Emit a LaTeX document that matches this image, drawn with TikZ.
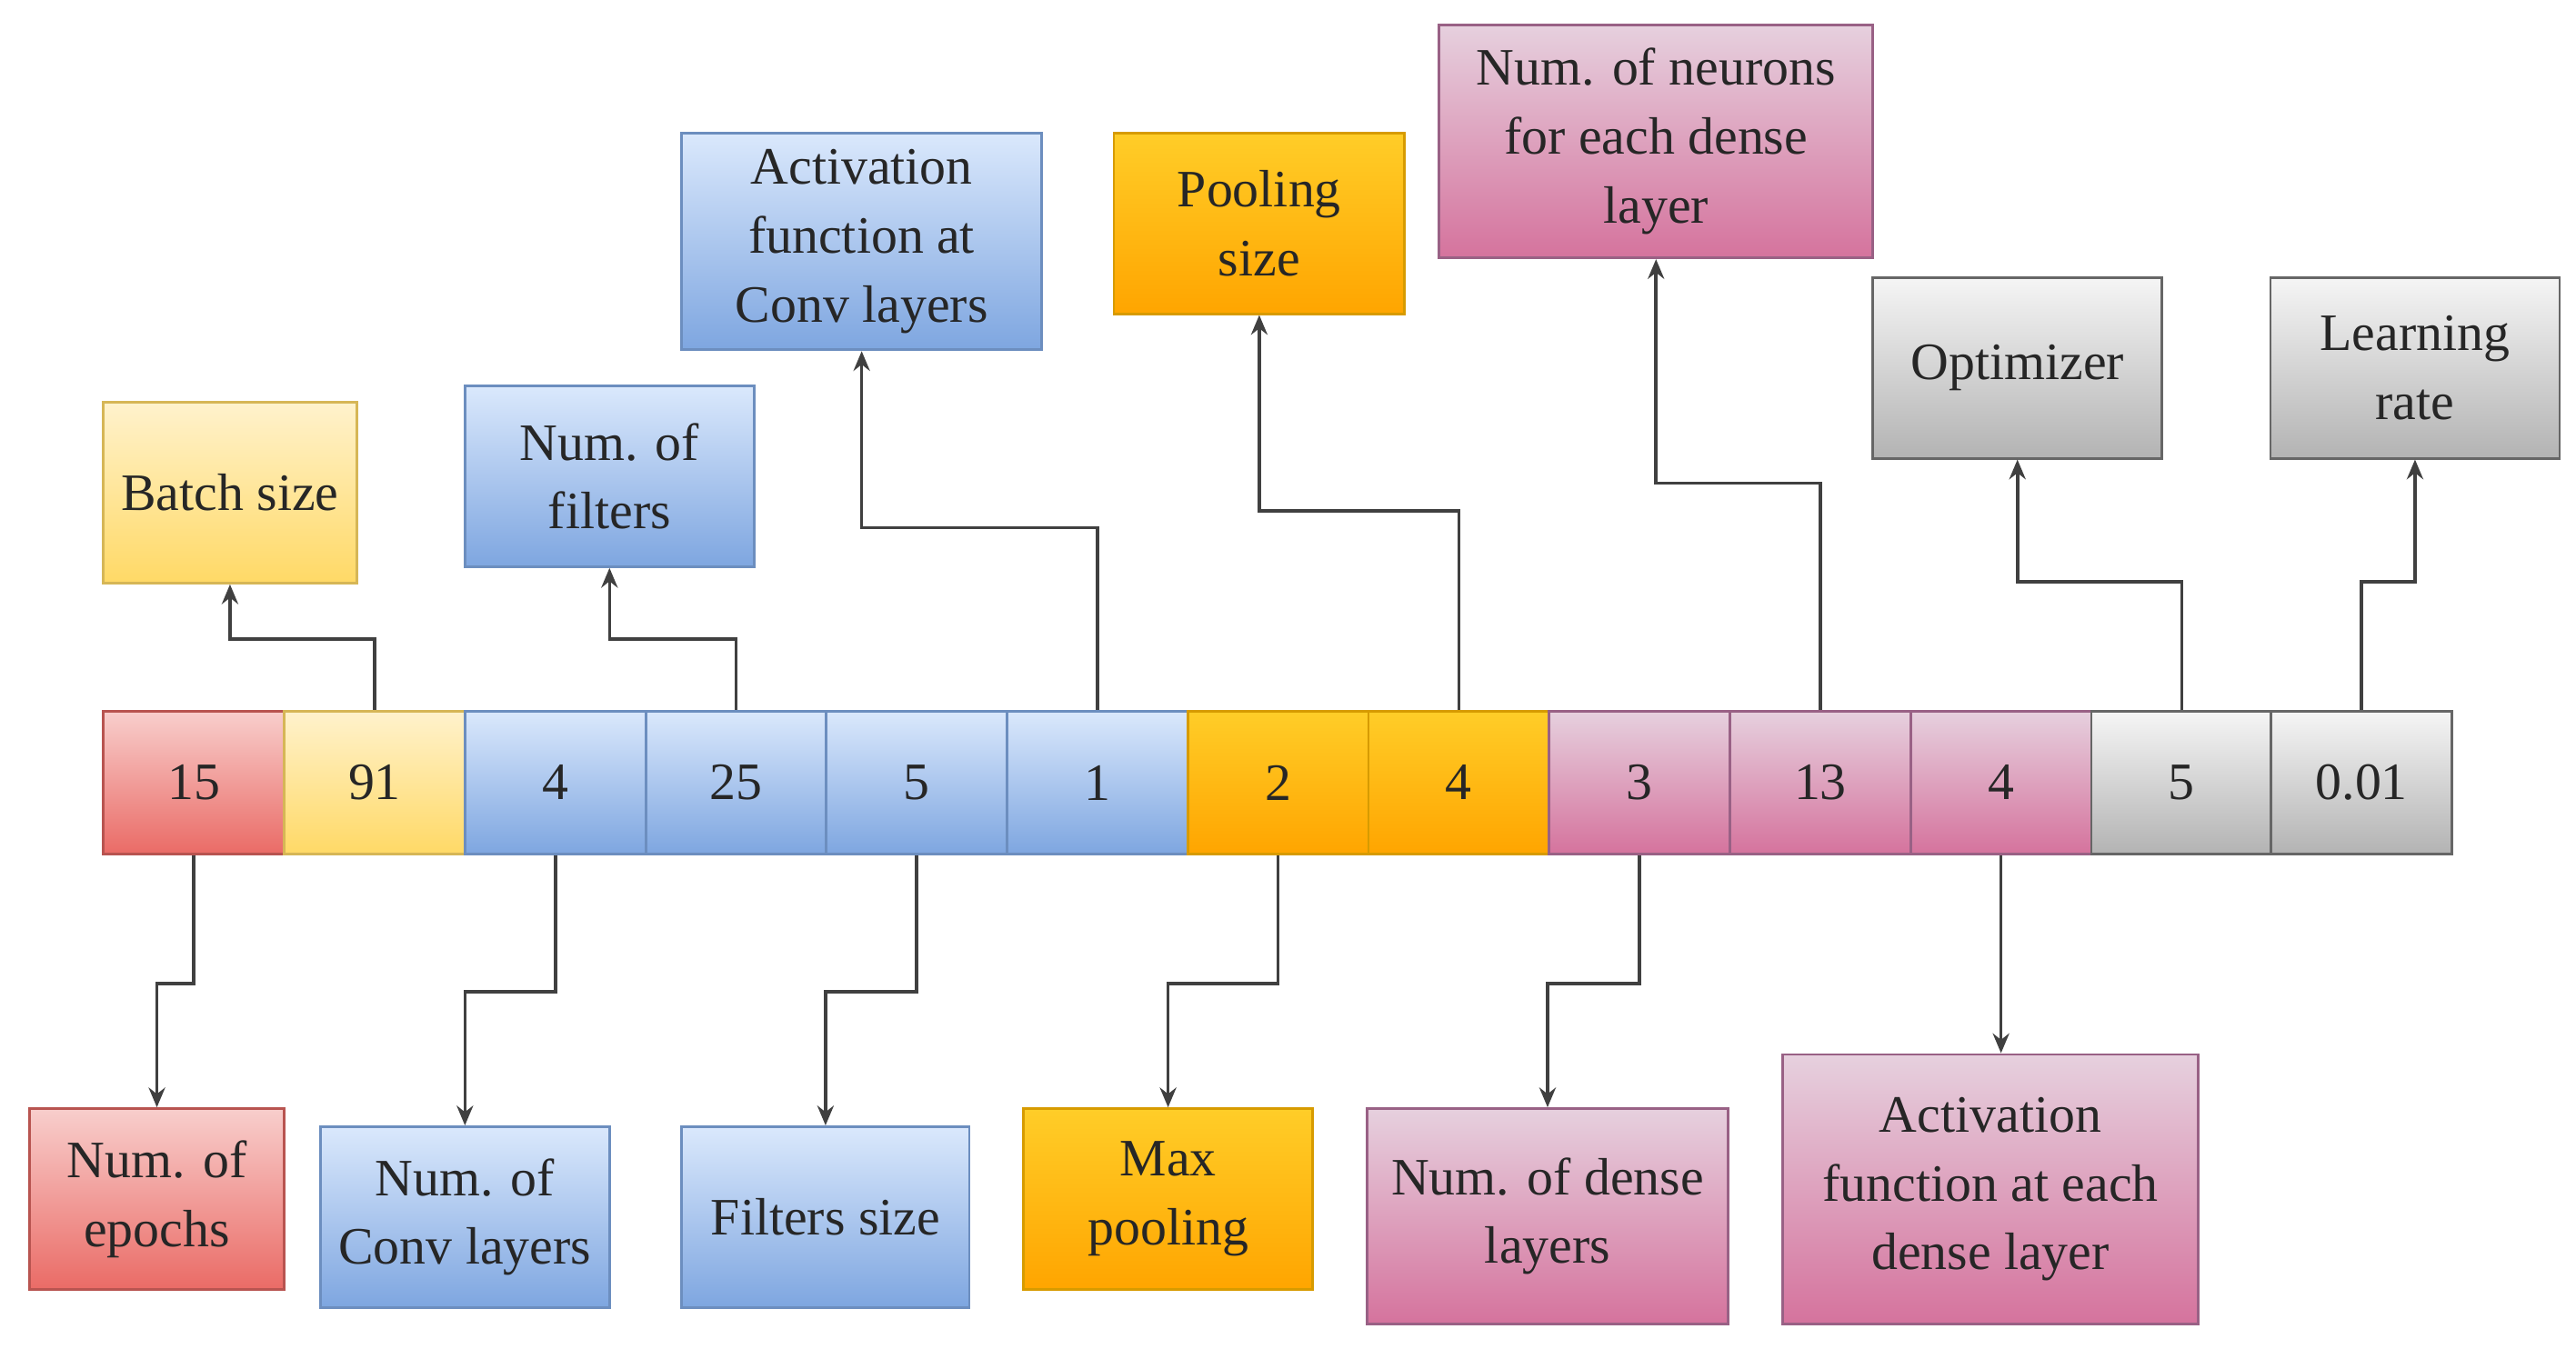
\documentclass[tikz,border=0pt]{standalone}
\usepackage{fontspec}
\setmainfont{Liberation Serif}
\usetikzlibrary{arrows.meta}
\definecolor{rT}{HTML}{F8CECC}\definecolor{rB}{HTML}{EA6B66}\definecolor{rD}{HTML}{B85450}
\definecolor{yT}{HTML}{FFF2CC}\definecolor{yB}{HTML}{FFD966}\definecolor{yD}{HTML}{D6B656}
\definecolor{bT}{HTML}{DAE8FC}\definecolor{bB}{HTML}{7EA6E0}\definecolor{bD}{HTML}{6C8EBF}
\definecolor{oT}{HTML}{FFCD28}\definecolor{oB}{HTML}{FFA500}\definecolor{oD}{HTML}{D79B00}
\definecolor{pT}{HTML}{E6D0DE}\definecolor{pB}{HTML}{D5739D}\definecolor{pD}{HTML}{996185}
\definecolor{gT}{HTML}{F5F5F5}\definecolor{gB}{HTML}{B3B3B3}\definecolor{gD}{HTML}{666666}
\tikzset{
 bx/.style={draw=#1D, top color=#1T, bottom color=#1B, line width=0.8pt, align=center, inner sep=1pt, font=\fontsize{16}{21}\selectfont, text=black!85},
 cell/.style={bx=#1, minimum width=55pt, minimum height=43.5pt},
 arr/.style={-{Stealth[length=6pt,width=5pt]}, line width=1pt, draw=black!75},
}
\begin{document}
\begin{tikzpicture}[x=0.5pt,y=-0.5pt]
\useasboundingbox (0,0) rectangle (1568,821);
% cells
\node[cell=r] (c1) at (118,476.5) {15};
\node[cell=y] (c2) at (228,476.5) {91};
\node[cell=b] (c3) at (338,476.5) {4};
\node[cell=b] (c4) at (448,476.5) {25};
\node[cell=b] (c5) at (558,476.5) {5};
\node[cell=b] (c6) at (668,476.5) {1};
\node[cell=o] (c7) at (778,476.5) {2};
\node[cell=o] (c8) at (888,476.5) {4};
\node[cell=p] (c9) at (998,476.5) {3};
\node[cell=p] (c10) at (1108,476.5) {13};
\node[cell=p] (c11) at (1218,476.5) {4};
\node[cell=g] (c12) at (1328,476.5) {5};
\node[cell=g] (c13) at (1437.5,476.5) {0.01};
% top boxes
\node[bx=y, minimum width=77pt, minimum height=55pt] (batch) at (140,300) {Batch size};
\node[bx=b, minimum width=88pt, minimum height=55pt] (filt) at (371,290) {Num. of\\filters};
\node[bx=b, minimum width=109.5pt, minimum height=66pt] (actc) at (524.5,147) {Activation\\function at\\Conv layers};
\node[bx=o, minimum width=88.5pt, minimum height=55pt] (pool) at (766.5,136) {Pooling\\size};
\node[bx=p, minimum width=132pt, minimum height=71pt] (neur) at (1008,86) {Num. of neurons\\for each dense\\layer};
\node[bx=g, minimum width=88pt, minimum height=55pt] (opt) at (1228,224) {Optimizer};
\node[bx=g, minimum width=88pt, minimum height=55pt] (lr) at (1470,224) {Learning\\rate};
% bottom boxes
\node[bx=r, minimum width=77.5pt, minimum height=55pt] (ep) at (95.5,730) {Num. of\\epochs};
\node[bx=b, minimum width=88pt, minimum height=55pt] (cl) at (283,741) {Num. of\\Conv layers};
\node[bx=b, minimum width=87.5pt, minimum height=55pt] (fs) at (502.5,741) {Filters size};
\node[bx=o, minimum width=88pt, minimum height=55pt] (mp) at (711,730) {Max\\pooling};
\node[bx=p, minimum width=110pt, minimum height=65.5pt] (dl) at (942,740.5) {Num. of dense\\layers};
\node[bx=p, minimum width=126.5pt, minimum height=82pt] (ad) at (1211.5,724) {Activation\\function at each\\dense layer};
% top arrows
\draw[arr] (c2.north) -- ++(0,-43) -| (batch.south);
\draw[arr] (c4.north) -- ++(0,-43) -| (filt.south);
\draw[arr] (c6.north) -- ++(0,-111) -| (actc.south);
\draw[arr] (c8.north) -- ++(0,-121) -| (pool.south);
\draw[arr] (c10.north) -- ++(0,-138) -| (neur.south);
\draw[arr] (c12.north) -- ++(0,-78) -| (opt.south);
\draw[arr] (c13.north) -- ++(0,-78) -| (lr.south);
% bottom arrows
\draw[arr] (c1.south) -- ++(0,78) -| (ep.north);
\draw[arr] (c3.south) -- ++(0,83) -| (cl.north);
\draw[arr] (c5.south) -- ++(0,83) -| (fs.north);
\draw[arr] (c7.south) -- ++(0,78) -| (mp.north);
\draw[arr] (c9.south) -- ++(0,78) -| (dl.north);
\draw[arr] (c11.south) -- (ad.north -| c11.south);
\end{tikzpicture}
\end{document}
